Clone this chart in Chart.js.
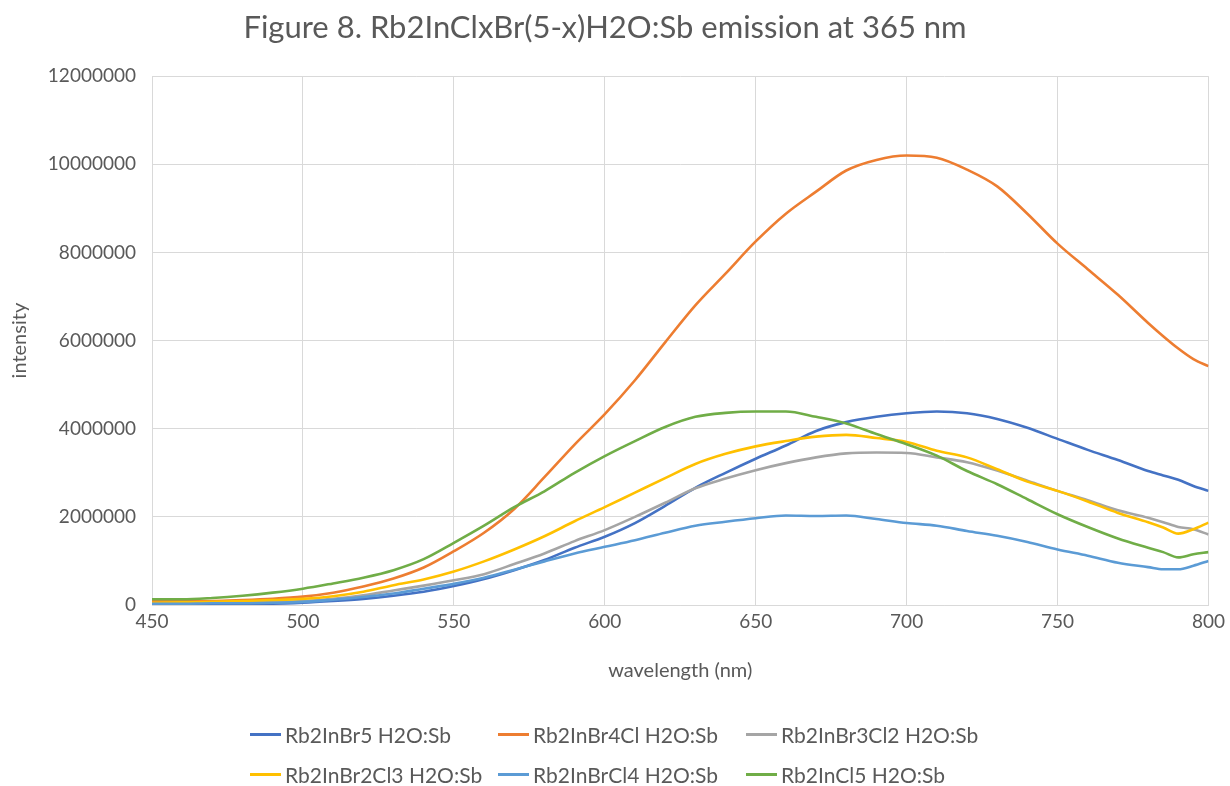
<!DOCTYPE html>
<html><head><meta charset="utf-8">
<script src="https://cdn.jsdelivr.net/npm/chart.js@4.4.0/dist/chart.umd.min.js"></script>
<style>
html,body{margin:0;padding:0;background:#fff;}
#wrap{position:relative;width:1230px;height:786px;}
#legend{position:absolute;left:250px;top:721px;width:760px;display:grid;grid-template-columns:248px 248px 248px;row-gap:13px;font-family:Lato,"Open Sans",sans-serif;font-size:21px;color:#595959;}
.item{display:flex;align-items:center;height:27px;white-space:nowrap;}
.sw{width:31px;height:3px;margin-right:4px;flex:none;}
</style></head><body>
<div id="wrap"><canvas id="c" width="1230" height="786"></canvas><div id="legend"></div></div>
<script>
const chartTitle = "Figure 8. Rb2InClxBr(5-x)H2O:Sb emission at 365 nm";
const xTitle = "wavelength (nm)";
const yTitle = "intensity";
const wavelengths = [450,460,470,480,490,500,510,520,530,540,550,560,570,580,590,600,610,620,630,640,650,660,670,680,690,700,710,720,730,740,750,760,770,780,785,790,795,800];
const seriesNames = ["Rb2InBr5 H2O:Sb","Rb2InBr4Cl H2O:Sb","Rb2InBr3Cl2 H2O:Sb","Rb2InBr2Cl3 H2O:Sb","Rb2InBrCl4 H2O:Sb","Rb2InCl5 H2O:Sb"];
const seriesColors = ["#4472C4","#ED7D31","#A5A5A5","#FFC000","#5B9BD5","#70AD47"];
const rb2InBr5 = [20000,20000,20000,30000,30000,50000,90000,140000,210000,300000,430000,590000,790000,1020000,1300000,1550000,1860000,2250000,2660000,3000000,3320000,3620000,3950000,4150000,4270000,4350000,4390000,4350000,4220000,4020000,3770000,3520000,3290000,3040000,2940000,2840000,2700000,2590000];
const rb2InBr4Cl = [90000,90000,90000,110000,140000,190000,280000,420000,600000,850000,1220000,1640000,2180000,2900000,3640000,4330000,5100000,5960000,6800000,7520000,8250000,8880000,9380000,9860000,10100000,10200000,10150000,9880000,9500000,8880000,8200000,7620000,7040000,6400000,6100000,5820000,5580000,5420000];
const rb2InBr3Cl2 = [30000,40000,50000,60000,70000,90000,140000,220000,330000,440000,560000,700000,930000,1170000,1450000,1700000,2000000,2320000,2650000,2870000,3060000,3220000,3350000,3440000,3460000,3450000,3350000,3240000,3050000,2820000,2590000,2380000,2150000,1980000,1880000,1770000,1720000,1600000];
const rb2InBr2Cl3 = [50000,60000,70000,90000,110000,140000,200000,300000,450000,580000,760000,990000,1260000,1560000,1900000,2220000,2550000,2880000,3200000,3430000,3600000,3720000,3820000,3860000,3790000,3700000,3500000,3350000,3080000,2800000,2590000,2350000,2090000,1880000,1760000,1620000,1720000,1870000];
const rb2InBrCl4 = [30000,30000,40000,40000,50000,70000,120000,180000,260000,370000,480000,620000,800000,990000,1170000,1320000,1470000,1640000,1800000,1890000,1970000,2030000,2020000,2030000,1950000,1860000,1800000,1680000,1570000,1430000,1260000,1120000,960000,860000,810000,810000,890000,1000000];
const rb2InCl5 = [130000,130000,160000,210000,280000,370000,490000,620000,790000,1040000,1410000,1800000,2220000,2580000,3000000,3380000,3720000,4040000,4270000,4360000,4390000,4390000,4270000,4120000,3880000,3650000,3390000,3040000,2740000,2400000,2060000,1770000,1510000,1300000,1200000,1080000,1150000,1200000];
const seriesValues = [rb2InBr5, rb2InBr4Cl, rb2InBr3Cl2, rb2InBr2Cl3, rb2InBrCl4, rb2InCl5];
const xTicks = [450,500,550,600,650,700,750,800];
const yTicks = [0,2000000,4000000,6000000,8000000,10000000,12000000];

const FONT = 'Lato, "Open Sans", sans-serif';
const TXT = '#595959';
const GRID = '#d9d9d9';

const datasets = seriesNames.map((name, i) => ({
  label: name,
  data: wavelengths.map((w, j) => ({x: w, y: seriesValues[i][j]})),
  borderColor: seriesColors[i],
  backgroundColor: seriesColors[i],
  borderWidth: 2.6,
  pointRadius: 0,
  cubicInterpolationMode: 'monotone',
  fill: false,
  order: seriesNames.length - i
}));

new Chart(document.getElementById('c'), {
  type: 'line',
  data: {datasets},
  options: {
    responsive: false,
    animation: false,
    layout: {padding: {left: 0, right: 20, top: 0, bottom: 91}},
    plugins: {
      legend: {display: false},
      tooltip: {enabled: false},
      title: {display: true, text: chartTitle, color: TXT, font: {family: FONT, size: 31, weight: 'normal'}, padding: {top: 9, bottom: 30}}
    },
    scales: {
      x: {
        type: 'linear', min: xTicks[0], max: xTicks[xTicks.length-1],
        afterBuildTicks: s => { s.ticks = xTicks.map(v => ({value: v})); },
        afterFit: s => { s.height = 90; },
        ticks: {color: TXT, font: {family: FONT, size: 19}, padding: 5},
        grid: {color: GRID, drawTicks: false, lineWidth: 1},
        border: {color: GRID},
        title: {display: true, text: xTitle, color: TXT, font: {family: FONT, size: 20}, padding: {top: 0, bottom: 12}}
      },
      y: {
        type: 'linear', min: yTicks[0], max: yTicks[yTicks.length-1],
        afterBuildTicks: s => { s.ticks = yTicks.map(v => ({value: v})); },
        afterFit: s => { s.width = 152; },
        ticks: {color: TXT, font: {family: FONT, size: 19}, padding: 16, callback: v => String(v)},
        grid: {color: GRID, drawTicks: false, lineWidth: 1},
        border: {color: GRID},
        title: {display: true, text: yTitle, color: TXT, font: {family: FONT, size: 20}, padding: {top: 8, bottom: 0}}
      }
    }
  }
});

const lg = document.getElementById('legend');
seriesNames.forEach((n, i) => {
  const d = document.createElement('div'); d.className = 'item';
  const s = document.createElement('span'); s.className = 'sw'; s.style.background = seriesColors[i];
  const t = document.createElement('span'); t.textContent = n;
  d.appendChild(s); d.appendChild(t); lg.appendChild(d);
});
</script>
</body></html>
